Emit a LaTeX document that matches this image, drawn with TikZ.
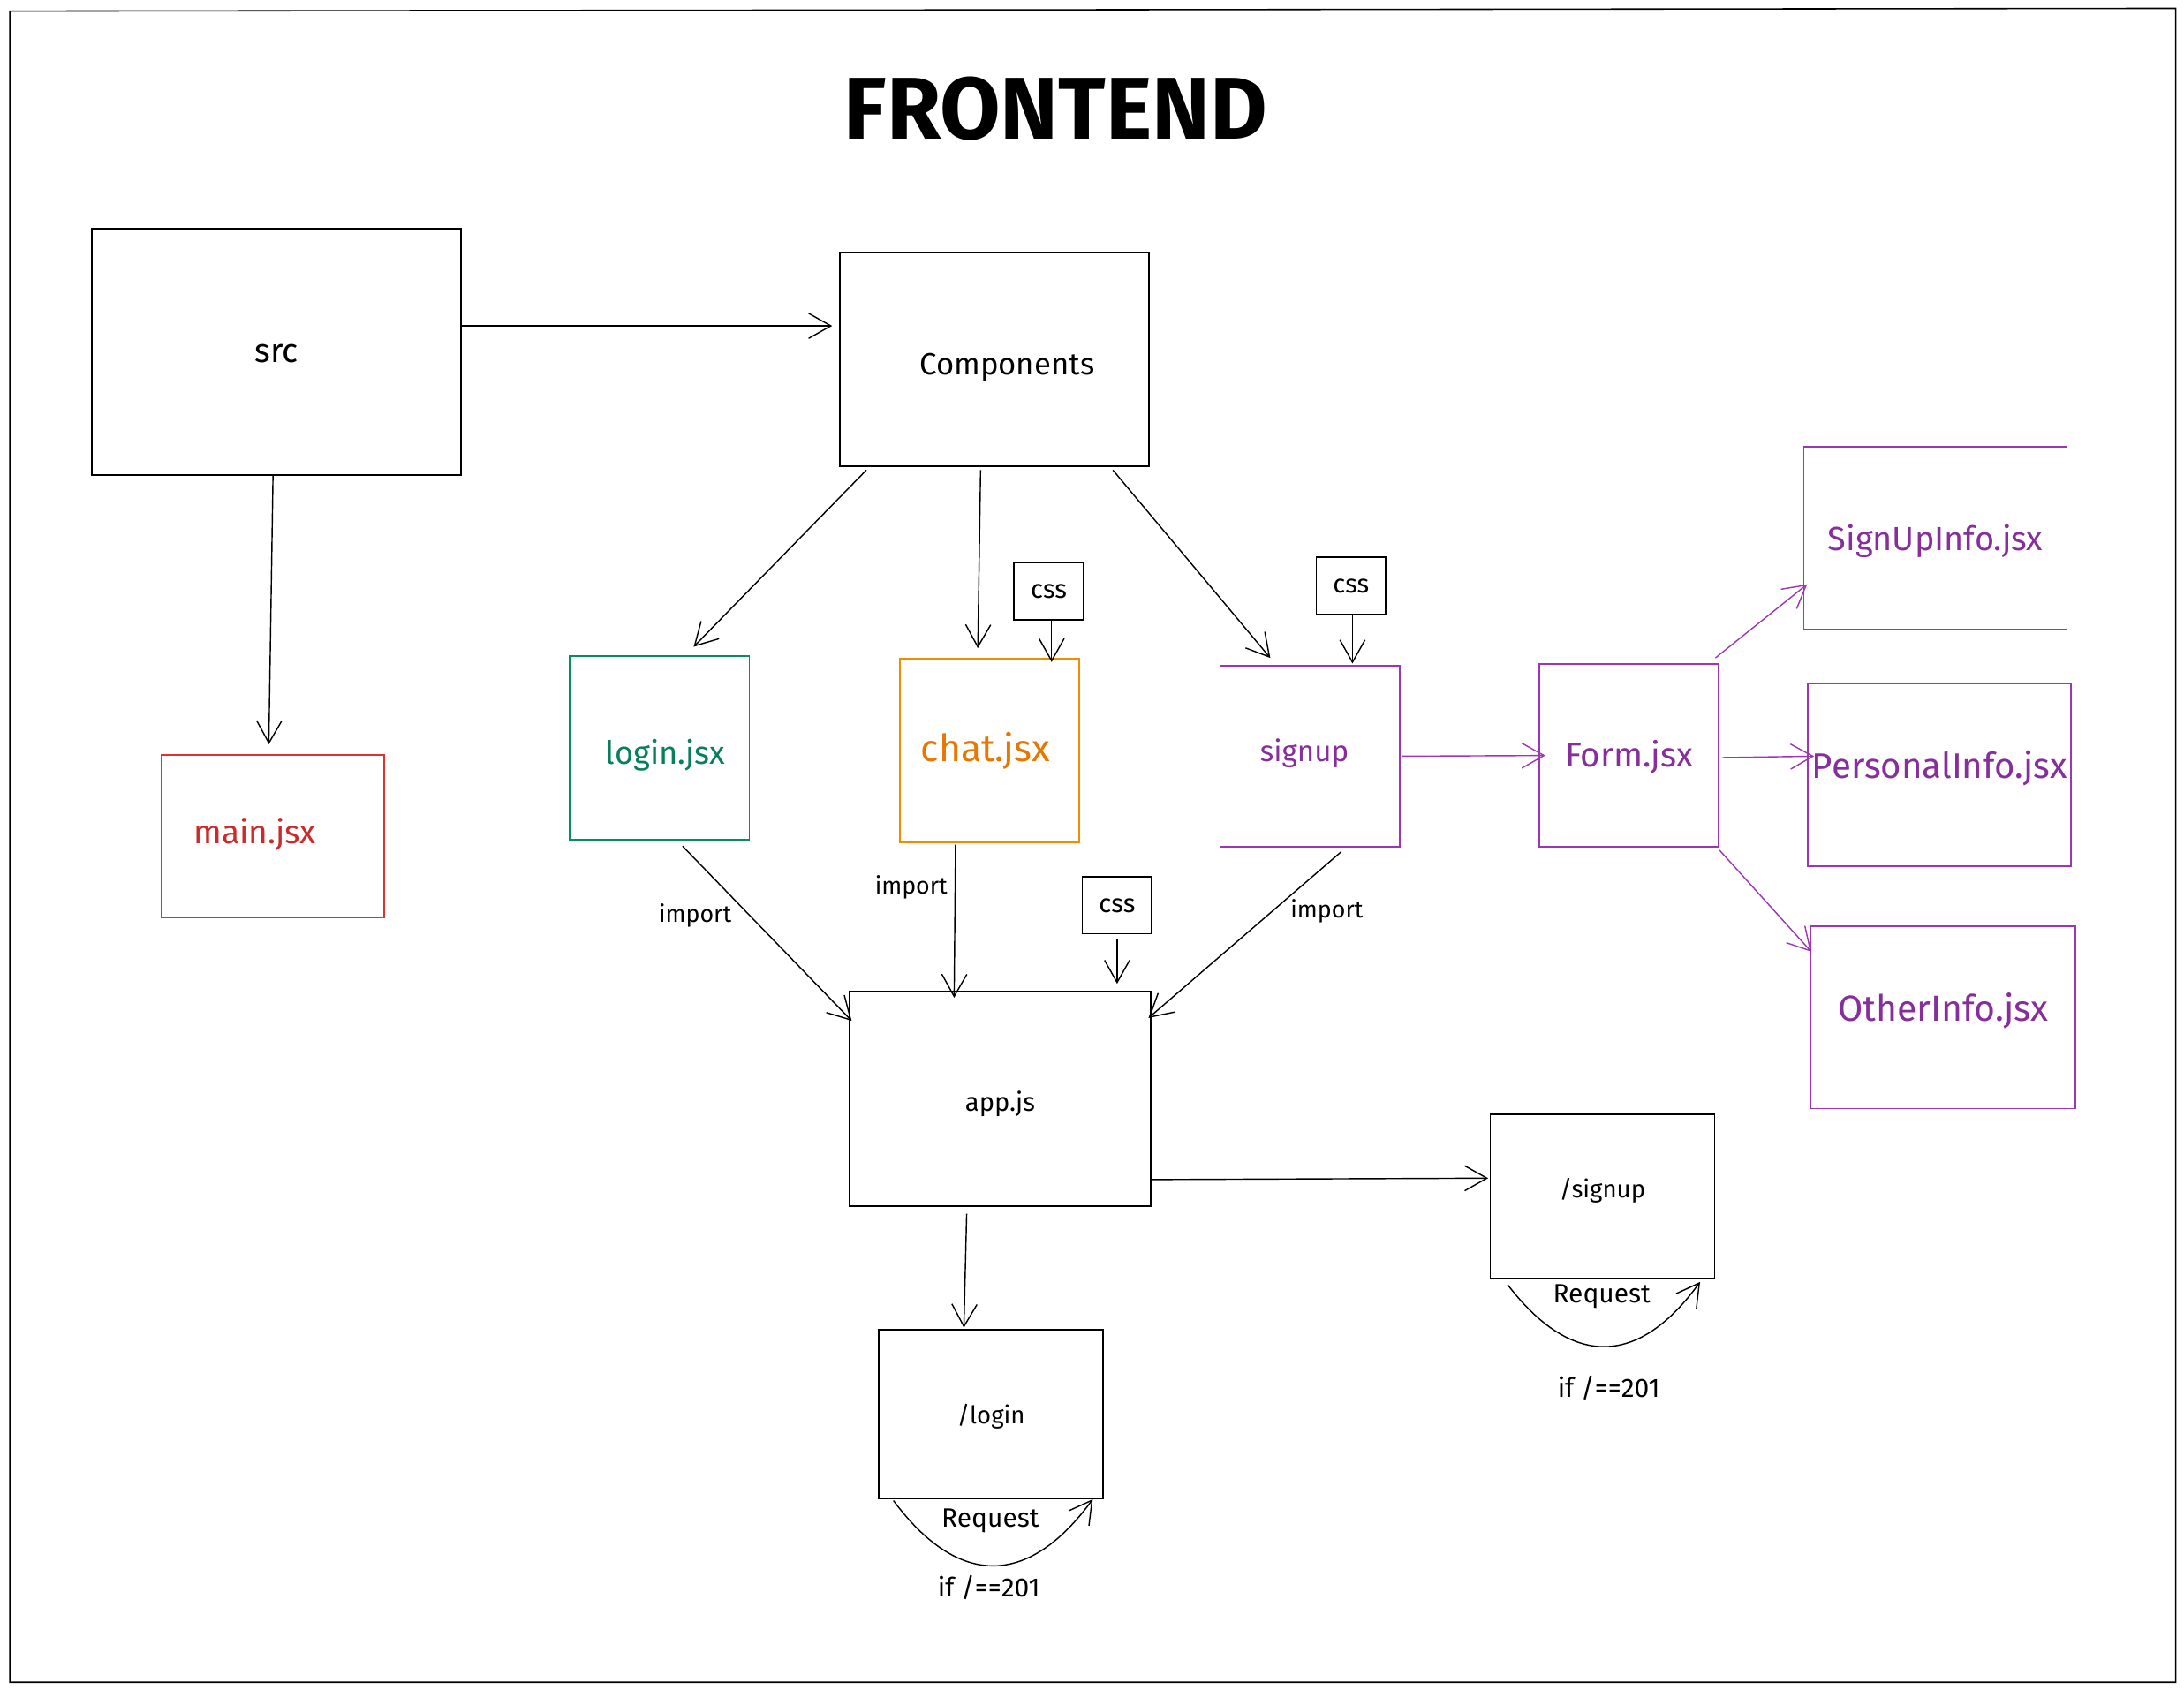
\documentclass[tikz,border=0pt]{standalone}
\usepackage{fontspec}
\setmainfont{Fira Sans}
\usetikzlibrary{arrows.meta,calc}
\definecolor{redS}{HTML}{E03131}
\definecolor{redT}{HTML}{C92A2A}
\definecolor{greenS}{HTML}{0C8A64}
\definecolor{greenT}{HTML}{087F5B}
\definecolor{orangeS}{HTML}{F08C00}
\definecolor{orangeT}{HTML}{E67700}
\definecolor{purpS}{HTML}{9C36B5}
\definecolor{purpT}{HTML}{862E9C}
\newcommand{\fsz}[1]{\fontsize{#1}{#1}\selectfont}
\tikzset{
  x=1pt, y=-1pt,
  box/.style={draw=black, line width=1.1pt, rectangle, inner sep=0pt, font=\fsz{21}, text height=1em, text depth=0pt},
  smallbox/.style={box, minimum width=50pt, minimum height=41pt, font=\fsz{18.5}},
  lbl/.style={font=\fsz{17}, inner sep=1pt},
  reqlbl/.style={font=\fsz{19}, inner sep=1pt},
  arr/.style={draw=black, line width=0.9pt, -{Straight Barb[length=16pt,width=18pt,line width=0.9pt]}},
  parr/.style={arr, draw=purpS},
}
\begin{document}
\begin{tikzpicture}
\useasboundingbox (0,0) rectangle (1568,1213);
% outer frame
\draw[line width=1pt] (7,8) -- (1562,6) -- (1562,1208) -- (7,1208) -- cycle;
% title
\node (title) at (758,78) {\fsz{63}\bfseries FRONTEND};

% boxes
\node[box, font=\fsz{24}, minimum width=265pt, minimum height=177pt] (src) at (198.5,252.5) {\raisebox{-3pt}{src}};
\node[box, font=\fsz{22}, minimum width=222pt, minimum height=154pt] (comp) at (714,258) {\hspace*{18pt}\raisebox{-6pt}{Components}};
\node[box, font=\fsz{23.5}, draw=redS, text=redT, minimum width=160pt, minimum height=117pt] (main) at (196,600.5) {\hspace*{-26pt}\raisebox{-0.5pt}{main.jsx}};
\node[box, font=\fsz{23}, draw=greenS, text=greenT, minimum width=129pt, minimum height=132pt] (login) at (473.5,537) {\hspace*{8pt}\raisebox{-7pt}{login.jsx}};
\node[box, font=\fsz{27}, draw=orangeS, text=orangeT, minimum width=129pt, minimum height=132pt] (chat) at (710.5,539) {\hspace*{-6pt}\raisebox{-3pt}{chat.jsx}};
\node[box, font=\fsz{21}, draw=purpS, text=purpT, minimum width=129pt, minimum height=130pt] (signup) at (940.5,543) {\hspace*{-8pt}\raisebox{1pt}{signup}};
\node[smallbox] (css1) at (753,424.5) {css};
\node[smallbox] (css2) at (970,420.5) {css};
\node[smallbox] (css3) at (802,650) {css};
\node[box, font=\fsz{18.5}, minimum width=216pt, minimum height=154pt] (app) at (718,789) {\raisebox{-4pt}{app.js}};
\node[box, font=\fsz{24.5}, draw=purpS, text=purpT, minimum width=129pt, minimum height=131pt] (form) at (1169.5,542.5) {\raisebox{-3pt}{Form.jsx}};
\node[box, font=\fsz{24}, draw=purpS, text=purpT, minimum width=189pt, minimum height=131pt] (sui) at (1389.5,386.5) {\raisebox{-4pt}{SignUpInfo.jsx}};
\node[box, font=\fsz{25.5}, draw=purpS, text=purpT, minimum width=189pt, minimum height=131pt] (pi) at (1392.5,556.5) {\raisebox{2.5pt}{PersonalInfo.jsx}};
\node[box, font=\fsz{26}, draw=purpS, text=purpT, minimum width=190pt, minimum height=131pt] (oi) at (1395,730.5) {\raisebox{2.5pt}{OtherInfo.jsx}};
\node[box, font=\fsz{17.5}, minimum width=161pt, minimum height=118pt] (signupR) at (1150.5,859) {\raisebox{4pt}{/signup}};
\node[box, font=\fsz{17.5}, minimum width=161pt, minimum height=121pt] (loginR) at (711.5,1015.5) {\raisebox{-2pt}{/login}};

% connectors
\draw[arr] ($(src.east)+(0,-18.5)$) -- ($(comp.west)+(-5,-24)$);
\draw[arr] ($(src.south)+(-2.5,0)$) -- ($(main.north)+(-3,-7)$);
\draw[arr] ($(comp.south)+(-92,2)$) -- ($(login.north)+(24.5,-6)$);
\draw[arr] ($(comp.south)+(-10,2)$) -- ($(chat.north)+(-8.5,-7)$);
\draw[arr] ($(comp.south)+(85,2)$) -- ($(signup.north)+(-28.5,-5)$);
\draw[arr] ($(css1.south)+(2,0)$) -- ($(chat.north)+(44.5,3)$);
\draw[arr] ($(css2.south)+(1,0)$) -- ($(signup.north)+(30.5,-1)$);
\draw[arr] ($(css3.south)+(0,3)$) -- ($(app.north)+(84,-5)$);
\draw[arr] ($(login.south)+(16.5,4)$) -- node[lbl, pos=0.4, left=12pt] (imp1) {import} ($(app.west)+(2,-56)$);
\draw[arr] ($(chat.south)+(-24.5,1)$) -- node[lbl, pos=0.28, left=4pt] (imp2) {import} ($(app.north)+(-33,5)$);
\draw[arr] ($(signup.south)+(22.5,3)$) -- node[lbl, pos=0.36, right=12pt] (imp3) {import} ($(app.east)+(-2,-58)$);
\draw[parr] ($(signup.east)+(1,0)$) -- ($(form.west)+(5,0)$);
\draw[parr] ($(form.north east)+(-3,-4)$) -- ($(sui.south west)+(3,-33)$);
\draw[parr] ($(form.east)+(2,1.5)$) -- ($(pi.west)+(5,-13.5)$);
\draw[parr] ($(form.south east)+(0,2)$) -- ($(oi.north west)+(1,19)$);
\draw[arr] ($(app.east)+(1,58)$) -- ($(signupR.west)+(-1,-13)$);
\draw[arr] ($(app.south)+(-24,5)$) -- ($(loginR.north)+(-19.5,-1)$);

% request loops
\draw[arr] ($(loginR.south west)+(11,1)$) .. controls (688,1140) and (738,1140) .. ($(loginR.south east)+(-8,0)$);
\node[reqlbl] (req1) at (711,1092) {Request};
\node[reqlbl] (if1) at (710,1140) {if /==201};
\draw[arr] ($(signupR.south west)+(13,4)$) .. controls (1128,982) and (1176,982) .. ($(signupR.south east)+(-11,2)$);
\node[reqlbl] (req2) at (1150,931) {Request};
\node[reqlbl] (if2) at (1155,997) {if /==201};
\end{tikzpicture}
\end{document}
